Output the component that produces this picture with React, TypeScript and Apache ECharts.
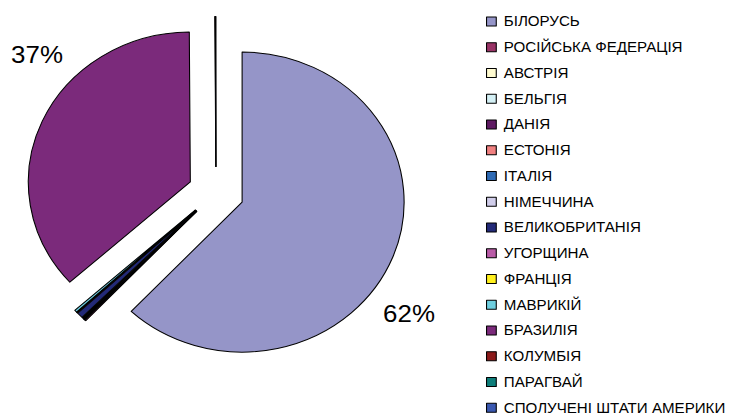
import React, { useEffect, useRef } from "react";
import * as echarts from "echarts";

const categories = [
  "БІЛОРУСЬ",
  "РОСІЙСЬКА ФЕДЕРАЦІЯ",
  "АВСТРІЯ",
  "БЕЛЬГІЯ",
  "ДАНІЯ",
  "ЕСТОНІЯ",
  "ІТАЛІЯ",
  "НІМЕЧЧИНА",
  "ВЕЛИКОБРИТАНІЯ",
  "УГОРЩИНА",
  "ФРАНЦІЯ",
  "МАВРИКІЙ",
  "БРАЗИЛІЯ",
  "КОЛУМБІЯ",
  "ПАРАГВАЙ",
  "СПОЛУЧЕНІ ШТАТИ АМЕРИКИ",
];

const shares = [
  62.0, 0.12, 0.02, 0.03, 0.05, 0.03, 0.06, 0.1, 0.6, 0.04, 0.05, 0.25, 36.55,
  0.03, 0.02, 0.05,
];

const colors = [
  "#9595C8",
  "#993366",
  "#FFFBD0",
  "#D4F0F5",
  "#5E1A62",
  "#F08080",
  "#2E6AB4",
  "#D0CDEA",
  "#232A78",
  "#B85BA6",
  "#FFF01E",
  "#6ECFE0",
  "#7B2A7B",
  "#8B1A1A",
  "#0E7E7A",
  "#3A58B0",
];

const STRETCH = 1.08;
const W = 742 / STRETCH;
const H = 416;
const FONT = "Liberation Sans, Arial, sans-serif";

export default function App() {
  const ref = useRef<HTMLDivElement>(null);

  useEffect(() => {
    if (!ref.current) return;
    const chart = echarts.init(ref.current, null, { renderer: "svg" });
    const total = shares.reduce((a, b) => a + b, 0);
    const labelPos: Record<string, [number, number]> = {
      "БІЛОРУСЬ": [378.7, 313.5],
      "БРАЗИЛІЯ": [34.3, 54.5],
    };
    const labels = categories
      .map((name, i) => ({ name, pct: (shares[i] / total) * 100 }))
      .filter((d) => d.pct >= 1 && labelPos[d.name])
      .map((d) => ({
        type: "text",
        x: labelPos[d.name][0],
        y: labelPos[d.name][1],
        style: {
          text: Math.round(d.pct) + "%",
          font: `24px ${FONT}`,
          fill: "#000",
          align: "center",
          verticalAlign: "middle",
        },
      }));
    chart.setOption({
      animation: false,
      backgroundColor: "#fff",
      color: colors,
      legend: {
        orient: "vertical",
        left: 450,
        top: 14.5,
        padding: 0,
        itemWidth: 9,
        itemHeight: 9,
        itemGap: 11.75,
        icon: "rect",
        selectedMode: false,
        itemStyle: { borderColor: "#000", borderWidth: 1 },
        textStyle: {
          fontFamily: FONT,
          fontSize: 14,
          lineHeight: 14,
          color: "#000",
          padding: [0, 0, 0, 2],
        },
        data: categories,
      },
      graphic: labels,
      series: [
        {
          type: "pie",
          center: [200, 192.5],
          radius: [0, 150],
          startAngle: 90,
          clockwise: true,
          selectedMode: "multiple",
          selectedOffset: 26,
          avoidLabelOverlap: false,
          minAngle: 0,
          itemStyle: { borderColor: "#000", borderWidth: 1 },
          emphasis: { disabled: true },
          label: { show: false },
          labelLine: { show: false },
          data: categories.map((name, i) => ({
            name,
            value: shares[i],
            selected: true,
          })),
        },
      ],
    });
    return () => chart.dispose();
  }, []);

  return (
    <div
      ref={ref}
      style={{
        position: "fixed",
        left: 0,
        top: 0,
        width: W,
        height: H,
        transform: `scaleX(${STRETCH})`,
        transformOrigin: "0 0",
      }}
    />
  );
}
